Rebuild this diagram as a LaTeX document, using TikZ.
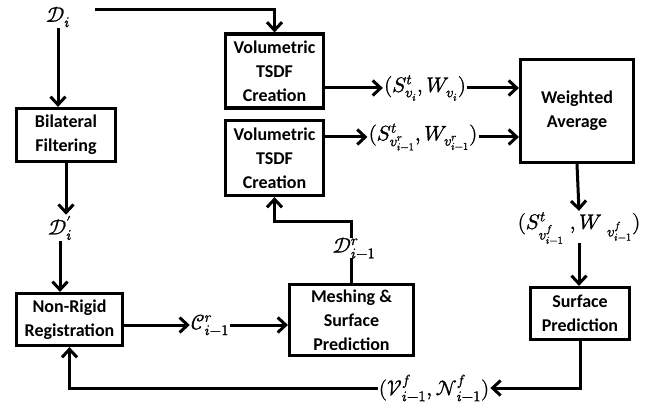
\documentclass[tikz,border=0pt]{standalone}
\usepackage{fontspec}
\usepackage{unicode-math}
\setmainfont{Carlito}
\setmathfont{Latin Modern Math}[FakeBold=1.2]
\usetikzlibrary{arrows.meta,calc}
\begin{document}
\begin{tikzpicture}[x=1pt,y=-1pt,
 box/.style={draw, line width=3.2pt, font=\bfseries\fontsize{18}{24}\selectfont, align=center, inner sep=0pt},
 lbl/.style={font=\fontsize{21}{24}\selectfont, inner sep=1pt},
 conn/.style={line width=3pt, -{Straight Barb[length=8pt,width=15pt]}},
 plain/.style={line width=3pt}]
\useasboundingbox (0,0) rectangle (661,409);
% boxes
\node[box, minimum width=98pt, minimum height=74pt] (vol1) at (274.5,71) {Volumetric\\TSDF\\Creation};
\node[box, minimum width=98pt, minimum height=75pt] (vol2) at (274.5,158) {Volumetric\\TSDF\\Creation};
\node[box, minimum width=99pt, minimum height=53pt] (bil) at (66,135) {Bilateral\\Filtering};
\node[box, minimum width=106pt, minimum height=52pt] (nr) at (69.5,319.5) {Non-Rigid\\Registration};
\node[box, minimum width=124pt, minimum height=71pt] (mesh) at (351.5,320) {Meshing \&\\Surface\\Prediction};
\node[box, minimum width=113pt, minimum height=103pt] (wa) at (577,111) {Weighted\\Average};
\node[box, minimum width=99pt, minimum height=52pt] (sp) at (580,313.5) {Surface\\Prediction};
% labels
\node[lbl] (Di) at (58,17) {$\mathcal{D}_i$};
\node[lbl] (Dpi) at (60,228) {$\mathcal{D}'_i$};
\node[lbl] (C) at (210,325) {$\mathcal{C}^r_{i-1}$};
\node[lbl] (S1) at (425,88) {$(S^t_{v_i},W_{v_i})$};
\node[lbl] (S2) at (423,137) {$(S^t_{v^r_{i-1}},W_{v^r_{i-1}})$};
\node[lbl] (S3) at (579,228) {$(S^t_{v^f_{i-1}}\;,W_{\;\;v^f_{i-1}})$};
\node[lbl] (V) at (434,388) {$(\mathcal{V}^f_{i-1},\mathcal{N}^f_{i-1})$};
\coordinate (d0) at (95,10);
\coordinate (s3a) at ($(S3.center)+(0,15)$);
% connectors
\draw[conn] (d0) -| (vol1.north);
\draw[conn] (Di.south) -- (Di.south |- bil.north);
\draw[conn] (bil.south) -- (bil.south |- Dpi.north);
\draw[conn] (Dpi.south) -- (Dpi.south |- nr.north);
\draw[conn] (nr.east |- C.west) -- (C.west);
\draw[conn] (C.east) -- (C.east -| mesh.west);
\draw[conn] (mesh.north) -- ++(0,-61) -| (vol2.south);
\node[lbl, fill=white, inner sep=0pt] (Dr) at (354,248) {$\mathcal{D}^r_{i-1}$};
\draw[conn] (vol1.east |- S1.west) -- (S1.west);
\draw[conn] (S1.east) -- (S1.east -| wa.west);
\draw[conn] (vol2.east |- S2.west) -- (S2.west);
\draw[conn] (S2.east) -- (S2.east -| wa.west);
\draw[conn] (wa.south) -- (S3.north);
\draw[conn] (s3a) -- (s3a |- sp.north);
\draw[conn] (sp.south) |- (V.east);
\draw[conn] (V.west) -| (nr.south);
\end{tikzpicture}
\end{document}
